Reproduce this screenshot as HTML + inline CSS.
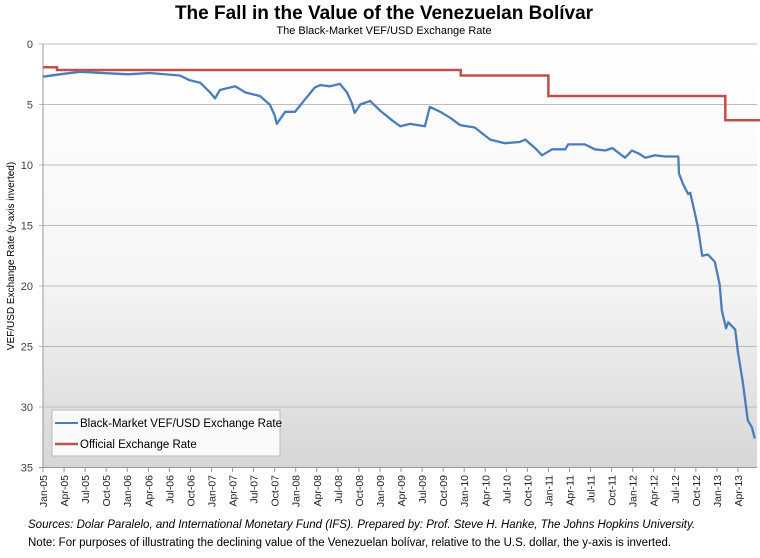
<!DOCTYPE html>
<html><head><meta charset="utf-8"><style>
body{margin:0;background:#fff;font-family:"Liberation Sans",sans-serif}
svg text{font-family:"Liberation Sans",sans-serif}
</style></head><body>
<svg width="760" height="553" xmlns="http://www.w3.org/2000/svg">
<defs><linearGradient id="bg" x1="0" y1="0" x2="0" y2="1"><stop offset="0" stop-color="#ffffff"/><stop offset="0.55" stop-color="#f6f6f6"/><stop offset="1" stop-color="#d6d6d6"/></linearGradient></defs>
<text x="384" y="19" text-anchor="middle" font-size="19" font-weight="bold">The Fall in the Value of the Venezuelan Bolívar</text>
<text x="384" y="34" text-anchor="middle" font-size="11">The Black-Market VEF/USD Exchange Rate</text>
<rect x="43" y="44" width="714" height="424" fill="url(#bg)"/>
<g id="grid"></g><g id="yt"></g><g id="xt"></g>
<path id="off" fill="none" stroke="#c0504d" stroke-width="2.5"/>
<path id="bm" fill="none" stroke="#4a7ebb" stroke-width="2.3" stroke-linejoin="round"/>
<text transform="translate(14,256) rotate(-90)" text-anchor="middle" font-size="10">VEF/USD Exchange Rate (y-axis inverted)</text>
<g>
<rect x="52" y="410" width="228" height="46" fill="#fafafa" stroke="#bbb"/>
<line x1="55" y1="423" x2="78" y2="423" stroke="#4a7ebb" stroke-width="2"/>
<text x="80" y="427" font-size="11.5">Black-Market VEF/USD Exchange Rate</text>
<line x1="55" y1="444" x2="78" y2="444" stroke="#c0504d" stroke-width="2.5"/>
<text x="80" y="448" font-size="11.5">Official Exchange Rate</text>
</g>
<text x="28" y="528" font-size="11.5" font-style="italic">Sources: Dolar Paralelo, and International Monetary Fund (IFS). Prepared by: Prof. Steve H. Hanke, The Johns Hopkins University.</text>
<text x="28" y="546" font-size="11.5">Note: For purposes of illustrating the declining value of the Venezuelan bolívar, relative to the U.S. dollar, the y-axis is inverted.</text>
</svg>
<script>
const yTicks=[0,5,10,15,20,25,30,35];
const xLabels=["Jan-05","Apr-05","Jul-05","Oct-05","Jan-06","Apr-06","Jul-06","Oct-06","Jan-07","Apr-07","Jul-07","Oct-07","Jan-08","Apr-08","Jul-08","Oct-08","Jan-09","Apr-09","Jul-09","Oct-09","Jan-10","Apr-10","Jul-10","Oct-10","Jan-11","Apr-11","Jul-11","Oct-11","Jan-12","Apr-12","Jul-12","Oct-12","Jan-13","Apr-13"];
const bmMonths=[0,2.4,5.3,12.1,15.2,19.5,20.9,22.4,23.8,24.5,25.2,27.4,28.8,30.9,32.3,33.0,33.3,34.5,35.9,37.3,38.7,39.5,40.9,42.3,43.3,44.0,44.4,45.2,46.6,48.0,49.7,50.9,52.3,54.4,55.1,56.6,58.0,59.4,61.5,63.7,65.8,67.9,68.7,70.1,71.1,72.5,74.4,74.8,77.2,78.6,80.1,81.1,82.9,83.9,85.0,85.8,87.2,88.6,90.0,90.5,90.6,91.2,91.9,92.2,92.9,93.3,93.9,94.7,95.7,96.4,96.7,97.3,97.6,98.6,99.0,99.7,100.4,101.0,101.4];
const bmValues=[2.7,2.5,2.3,2.5,2.4,2.6,3.0,3.2,4.0,4.5,3.8,3.5,4.0,4.3,5.0,5.9,6.6,5.6,5.6,4.6,3.6,3.4,3.5,3.3,4.0,4.9,5.7,5.0,4.7,5.5,6.3,6.8,6.6,6.8,5.2,5.6,6.1,6.7,6.9,7.9,8.2,8.1,7.9,8.6,9.2,8.7,8.7,8.3,8.3,8.7,8.8,8.6,9.4,8.8,9.1,9.4,9.2,9.3,9.3,9.3,10.7,11.6,12.4,12.3,14.1,15.2,17.5,17.4,18.0,19.9,22.0,23.5,23.0,23.6,25.5,28.0,31.1,31.7,32.6];
const offMonths=[0,2,2,59.5,59.5,72,72,97.2,97.2,102.5];
const offValues=[1.92,1.92,2.15,2.15,2.6,2.6,4.3,4.3,6.3,6.3];
const NS="http://www.w3.org/2000/svg";
const X=m=>43+m*7.02, Y=v=>44+v*12.1;
function mk(t,a,p){const e=document.createElementNS(NS,t);for(const k in a)e.setAttribute(k,a[k]);p.appendChild(e);return e;}
const grid=document.getElementById('grid'),yt=document.getElementById('yt'),xt=document.getElementById('xt');
yTicks.forEach(v=>{
 const l=mk('line',{x1:39,x2:757,y1:Y(v),y2:Y(v),stroke:v==35?'#999':'#bdbdbd','stroke-width':1},grid);
 
 
 const t=mk('text',{x:33,y:Y(v)+4,'text-anchor':'end','font-size':11,fill:'#444'},yt);t.textContent=v;
 
 
});
mk('line',{x1:43,x2:43,y1:44,y2:468,stroke:'#999'},grid);
xLabels.forEach((s,i)=>{
 const x=X(i*3);
 mk('line',{x1:x,x2:x,y1:468,y2:472,stroke:'#999'},xt);
 const t=mk('text',{transform:`translate(${x+4},${475}) rotate(-90)`,'text-anchor':'end','font-size':10.5,fill:'#222'},xt);t.textContent=s;
 
 
});
document.getElementById('bm').setAttribute('d',bmMonths.map((m,i)=>(i?'L':'M')+X(m).toFixed(1)+','+Y(bmValues[i]).toFixed(1)).join(''));
document.getElementById('off').setAttribute('d',offMonths.map((m,i)=>(i?'L':'M')+X(m).toFixed(1)+','+Y(offValues[i]).toFixed(1)).join(''));
</script>
</body></html>
